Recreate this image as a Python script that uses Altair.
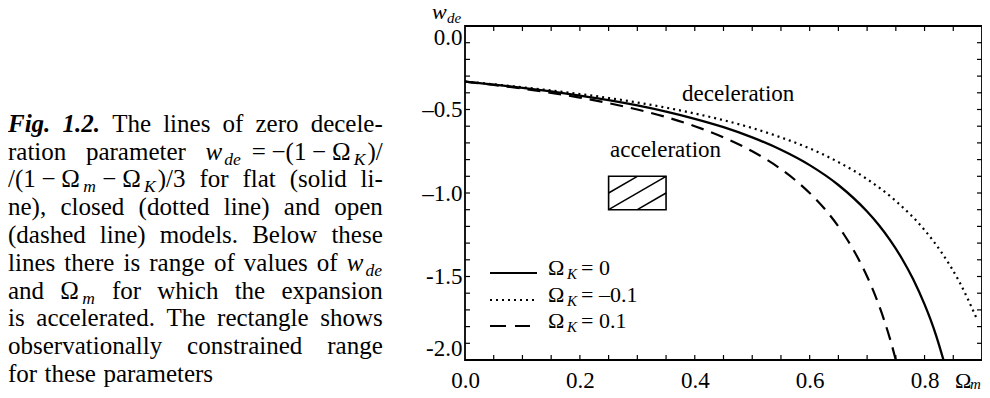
import re
import altair as alt
import pandas as pd

# ---------------- data ----------------
# flat model, Omega_K = 0 (solid)
om_flat = [0.0, 0.05, 0.1, 0.15, 0.2, 0.25, 0.3, 0.35, 0.4, 0.45, 0.5, 0.55, 0.6, 0.65,
           0.7, 0.72, 0.74, 0.76, 0.78, 0.8, 0.81, 0.82, 0.833]
w_flat = [-0.333, -0.351, -0.370, -0.392, -0.417, -0.444, -0.476, -0.513, -0.556, -0.606,
          -0.667, -0.741, -0.833, -0.952, -1.111, -1.190, -1.282, -1.389, -1.515, -1.667,
          -1.754, -1.852, -2.0]
# closed model, Omega_K = -0.1 (dotted)
om_closed = [0.0, 0.05, 0.1, 0.15, 0.2, 0.25, 0.3, 0.35, 0.4, 0.45, 0.5, 0.55, 0.6, 0.65,
             0.7, 0.75, 0.8, 0.83, 0.86, 0.89]
w_closed = [-0.333, -0.349, -0.367, -0.386, -0.407, -0.431, -0.458, -0.489, -0.524, -0.564,
            -0.611, -0.667, -0.733, -0.815, -0.917, -1.048, -1.222, -1.358, -1.528, -1.746]
# open model, Omega_K = 0.1 (dashed)
om_open = [0.0, 0.05, 0.1, 0.15, 0.2, 0.25, 0.3, 0.35, 0.4, 0.45, 0.5, 0.55, 0.6, 0.63,
           0.66, 0.68, 0.7, 0.71, 0.72, 0.73, 0.74, 0.75]
w_open = [-0.333, -0.353, -0.375, -0.400, -0.429, -0.462, -0.500, -0.545, -0.600, -0.667,
          -0.750, -0.857, -1.000, -1.111, -1.250, -1.364, -1.500, -1.579, -1.667, -1.765,
          -1.875, -2.0]

# observational rectangle and its hatching
rect_om = [0.25, 0.35]
rect_w = [-1.1, -0.9]
hatch_om1 = [0.25, 0.25, 0.30]
hatch_w1 = [-1.0, -1.1, -1.1]
hatch_om2 = [0.30, 0.35, 0.35]
hatch_w2 = [-0.9, -0.9, -1.0]

# axes
x_labels = [0.0, 0.2, 0.4, 0.6, 0.8]
y_labels = [0.0, -0.5, -1.0, -1.5, -2.0]
x_ticks = [0.05, 0.10, 0.15, 0.20, 0.25, 0.30, 0.35, 0.40, 0.45, 0.50, 0.55, 0.60, 0.65,
           0.70, 0.75, 0.80, 0.85]
y_ticks = [-0.1, -0.2, -0.3, -0.4, -0.5, -0.6, -0.7, -0.8, -0.9, -1.0, -1.1, -1.2, -1.3,
           -1.4, -1.5, -1.6, -1.7, -1.8, -1.9]

legend_values = ["= 0", "= \u20130.1", "= 0.1"]

caption_lines = [
    "#Fig.# #1.2.# The lines of zero decele-",
    "ration parameter $w$_de_~~=~\u2212(1~\u2212~\u03a9_K_)/",
    "/(1~\u2212~\u03a9_m_~\u2212~\u03a9_K_)/3 for flat (solid li-",
    "ne), closed (dotted line) and open",
    "(dashed line) models. Below these",
    "lines there is range of values of $w$_de_",
    "and \u03a9_m_ for which the expansion",
    "is accelerated. The rectangle shows",
    "observationally constrained range",
    "for these parameters",
]

# ---------------- layout ----------------
SERIF = "Liberation Serif"
W, H = 517, 334
PAD_L, PAD_T = 457, 18
X0, Y0 = 8 + PAD_L, 8 + PAD_T          # page position of plot origin
XMAX, YMIN = 0.9, -2.0


def dx(px):
    return (px - X0) * XMAX / W


def dy(py):
    return (py - Y0) * YMIN / H


xs = alt.Scale(domain=[0, XMAX], nice=False, zero=False)
ys = alt.Scale(domain=[YMIN, 0], nice=False, zero=False)

x_axis = alt.Axis(values=x_labels, format=".1f", ticks=False, domain=False, grid=False,
                  labelFont=SERIF, labelFontSize=23, labelColor="black", labelPadding=9,
                  title=None, labelFlush=False)
y_axis = alt.Axis(values=y_labels, ticks=False, domain=False, grid=False,
                  labelExpr="datum.value == 0 ? '0.0' : (datum.value > -1.25 ? '\u2013' : '-') + format(-datum.value, '.1f')",
                  labelFont=SERIF, labelFontSize=23, labelColor="black", labelPadding=3,
                  title=None, labelFlush=True, labelFlushOffset=0)


def X(f):
    return alt.X(f + ":Q", scale=xs, axis=x_axis, title=None)


def Y(f):
    return alt.Y(f + ":Q", scale=ys, axis=y_axis, title=None)


# ---------------- curves ----------------
df_flat = pd.DataFrame({"x": om_flat, "y": w_flat})
df_closed = pd.DataFrame({"x": om_closed, "y": w_closed})
df_open = pd.DataFrame({"x": om_open, "y": w_open})

flat = alt.Chart(df_flat).mark_line(color="black", strokeWidth=2.3, clip=True,
                                    interpolate="monotone").encode(x=X("x"), y=Y("y"))
closed = alt.Chart(df_closed).mark_line(color="black", strokeWidth=2.2, strokeDash=[2, 4],
                                        clip=True, interpolate="monotone").encode(x=X("x"), y=Y("y"))
opened = alt.Chart(df_open).mark_line(color="black", strokeWidth=2.2, strokeDash=[13, 8],
                                      clip=True, interpolate="monotone").encode(x=X("x"), y=Y("y"))

# ---------------- ticks (inward) ----------------
df_xt = pd.DataFrame({"x": x_ticks})
df_yt = pd.DataFrame({"y": y_ticks})
tick_style = dict(color="black", strokeWidth=1.2)
t_bottom = alt.Chart(df_xt).mark_rule(**tick_style).encode(x=X("x"), y=alt.value(H), y2=alt.value(H - 5))
t_top = alt.Chart(df_xt).mark_rule(**tick_style).encode(x=X("x"), y=alt.value(0), y2=alt.value(5))
t_left = alt.Chart(df_yt).mark_rule(**tick_style).encode(y=Y("y"), x=alt.value(0), x2=alt.value(5))
t_right = alt.Chart(df_yt).mark_rule(**tick_style).encode(y=Y("y"), x=alt.value(W), x2=alt.value(W - 5))

# ---------------- rectangle ----------------
df_rect = pd.DataFrame({"x": [rect_om[0]], "x2": [rect_om[1]], "y": [rect_w[0]], "y2": [rect_w[1]]})
rect = alt.Chart(df_rect).mark_rect(fill="white", fillOpacity=0, stroke="black",
                                    strokeWidth=1.6).encode(
    x=X("x"), x2="x2", y=Y("y"), y2="y2")
df_hatch = pd.DataFrame({"x": hatch_om1, "y": hatch_w1, "x2": hatch_om2, "y2": hatch_w2})
hatch = alt.Chart(df_hatch).mark_rule(color="black", strokeWidth=1.5).encode(
    x=X("x"), y=Y("y"), x2="x2", y2="y2")

# ---------------- legend lines ----------------
leg_y = [273, 300, 326]
leg_lines = []
for yy, dash, x_end in zip(leg_y, [None, [2, 4], [16, 9]], [537, 537, 530]):
    d = pd.DataFrame({"x": [dx(490)], "x2": [dx(x_end)], "y": [dy(yy)]})
    kw = dict(color="black", strokeWidth=2.2)
    if dash:
        kw["strokeDash"] = dash
    leg_lines.append(alt.Chart(d).mark_rule(**kw).encode(x=X("x"), x2="x2", y=Y("y")))

# ---------------- texts ----------------
styles = {
    "cap_r": (25, "normal", "normal"),
    "cap_i": (25, "italic", "normal"),
    "cap_bi": (25, "italic", "bold"),
    "cap_si": (17.5, "italic", "normal"),
    "lab": (23, "normal", "normal"),
    "ax_r": (22, "normal", "normal"),
    "ax_i": (22, "italic", "normal"),
    "ax_si": (15, "italic", "normal"),
}
rows = []


def put(px, py, t, s):
    rows.append({"x": dx(px), "y": dy(py), "t": t, "s": s})


put(682, 101, "deceleration", "lab")
put(610, 157, "acceleration", "lab")

leg_base = [275, 301.5, 327.5]
for yy, lab in zip(leg_base, legend_values):
    put(548, yy, "\u03a9", "ax_r")
    put(567, yy + 4, "K", "ax_si")
    put(581, yy, lab, "ax_r")

# axis titles
put(955, 388, "\u03a9", "ax_r")
put(970, 389, "m", "ax_si")
put(432, 19, "w", "ax_i")
put(447, 23, "de", "ax_si")

# caption with justification
TR = {" ": 250, "!": 333, "(": 333, ")": 333, ",": 250, "-": 333, ".": 250, "/": 278,
      "=": 564, "\u2212": 564, "\u03a9": 830,
      "A": 722, "B": 667, "C": 667, "D": 722, "E": 611, "F": 556, "G": 722, "H": 722,
      "I": 333, "K": 722, "L": 611, "M": 889, "N": 722, "O": 722, "P": 556, "R": 667,
      "S": 556, "T": 611, "W": 944,
      "a": 444, "b": 500, "c": 444, "d": 500, "e": 444, "f": 333, "g": 500, "h": 500,
      "i": 278, "j": 278, "k": 500, "l": 278, "m": 778, "n": 500, "o": 500, "p": 500,
      "q": 500, "r": 333, "s": 389, "t": 278, "u": 500, "v": 500, "w": 722, "x": 500,
      "y": 500, "z": 444}
for dgt in "0123456789":
    TR[dgt] = 500
TI = dict(TR)
TI.update({"w": 667, "m": 722, "K": 667, "d": 500, "e": 444})
TBI = dict(TR)
TBI.update({"F": 667, "i": 278, "g": 500})

CAP = 25
SUBR = 0.7
CAP_LEFT, CAP_RIGHT = 8, 384
CAP_BASE0, CAP_STEP = 131.7, 27.8


def pieces(word):
    out = []
    for tok in re.split(r"(\$[^$]*\$|_[^_]*_|#[^#]*#|~)", word):
        if not tok:
            continue
        if tok == "~":
            out.append(("", "sp"))
        elif tok[0] == "$":
            out.append((tok[1:-1], "i"))
        elif tok[0] == "_":
            out.append((tok[1:-1], "si"))
        elif tok[0] == "#":
            out.append((tok[1:-1], "bi"))
        else:
            out.append((tok, "r"))
    return out


def pw(text, kind):
    if kind == "sp":
        return 4.5
    tab = {"r": TR, "i": TI, "si": TI, "bi": TBI}[kind]
    size = CAP * (SUBR if kind == "si" else 1)
    extra = 2.0 if kind in ("i", "si") else 1.2
    return sum(tab.get(c, 500) for c in text) * size / 1000 + extra


for li, line in enumerate(caption_lines):
    words = [pieces(wd) for wd in line.split(" ")]
    widths = [sum(pw(t, k) for t, k in ws) for ws in words]
    base = CAP_BASE0 + li * CAP_STEP
    if li < len(caption_lines) - 1 and len(words) > 1:
        gap = max(3.0, (CAP_RIGHT - CAP_LEFT - sum(widths)) / (len(words) - 1))
    else:
        gap = 0.25 * CAP
    xcur = CAP_LEFT
    for ws, wdt in zip(words, widths):
        cx = xcur
        for t, k in ws:
            if k != "sp":
                put(cx, base + (5 if k == "si" else 0), t, "cap_" + k)
            cx += pw(t, k)
        xcur += wdt + gap

df_text = pd.DataFrame(rows)
text_layers = []
for sname, (size, fstyle, fweight) in styles.items():
    sub = df_text[df_text["s"] == sname]
    if len(sub) == 0:
        continue
    text_layers.append(
        alt.Chart(sub).mark_text(align="left", baseline="alphabetic", font=SERIF,
                                 fontSize=size, fontStyle=fstyle, fontWeight=fweight,
                                 color="black").encode(x=X("x"), y=Y("y"), text="t:N"))

chart = alt.layer(
    flat, closed, opened, t_bottom, t_top, t_left, t_right, rect, hatch,
    *leg_lines, *text_layers
).properties(
    width=W, height=H,
    padding={"left": PAD_L, "top": PAD_T, "right": 0, "bottom": 30},
    autosize=alt.AutoSizeParams(type="none"),
    background="white",
).configure_view(stroke="black", strokeWidth=1.8)

chart.save("out.html", embed_options={"renderer": "svg", "actions": False})
